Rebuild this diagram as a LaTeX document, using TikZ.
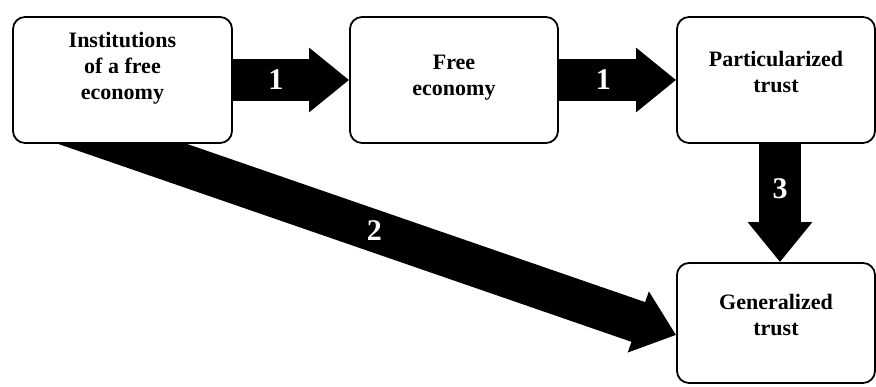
\documentclass[tikz,border=0pt]{standalone}
\usepackage{fontspec}
\setmainfont{Liberation Serif}
\usetikzlibrary{arrows.meta,backgrounds}
\tikzset{
  box/.style={draw,line width=1.8pt,rounded corners=12pt,fill=white,inner sep=0pt},
  txt/.style={align=center,font=\fontsize{22}{26}\selectfont\bfseries},
  fat/.style={line width=42pt,-{Triangle[length=40pt,width=62pt]}},
  num/.style={text=white,font=\fontsize{30}{30}\selectfont\bfseries}
}
\begin{document}
\begin{tikzpicture}[x=1pt,y=1pt]
\useasboundingbox (0,0) rectangle (876,386);
% boxes
\node[box,minimum width=219pt,minimum height=126pt] (inst) at (122.5,306) {};
\node[box,minimum width=208pt,minimum height=126pt] (econ) at (454,306) {};
\node[box,minimum width=198pt,minimum height=126pt] (part) at (776,306) {};
\node[box,minimum width=198pt,minimum height=120pt] (gen)  at (776,63) {};
\node[txt] (instT) at ([yshift=12pt]inst.center) {Institutions\\of a free\\economy};
\node[txt] (econT) at ([yshift=2pt]econ.center) {Free\\economy};
\node[txt] (partT) at ([yshift=8pt]part.center) {Particularized\\trust};
\node[txt] (genT)  at ([yshift=8pt]gen.center) {Generalized\\trust};
\coordinate (genin) at ([yshift=-12pt]gen.west);
% arrows
\scope[on background layer]
\draw[fat] (inst) -- node[num,pos=.37] (n1) {1} (econ);
\draw[fat] (econ) -- node[num,pos=.38] (n1b) {1} (part);
\draw[fat] ([xshift=4pt]part.south) -- node[num,pos=.38] (n3) {3} ([xshift=4pt]gen.north);
\draw[fat,shorten <=-70pt] (inst.south) -- node[num,pos=.455] (n2) {2} (genin);
\endscope
\end{tikzpicture}
\end{document}
